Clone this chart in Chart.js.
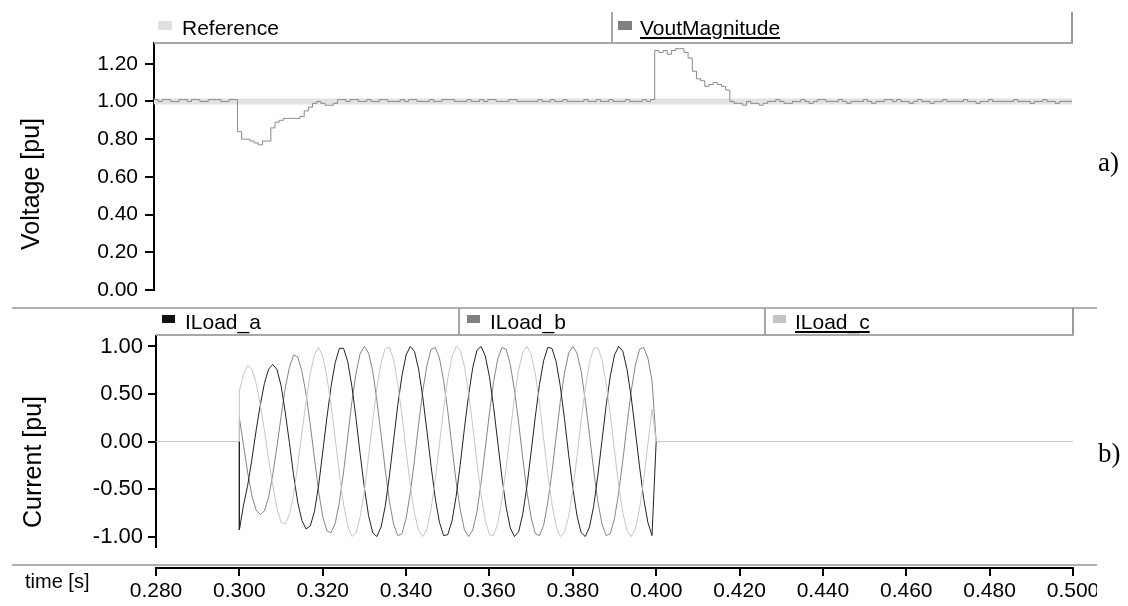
<!DOCTYPE html>
<html>
<head>
<meta charset="utf-8">
<script src="https://cdn.jsdelivr.net/npm/chart.js@4.4.1/dist/chart.umd.min.js"></script>
<style>
  html, body { margin: 0; padding: 0; background: #fff; }
  body { width: 1128px; height: 606px; position: relative; overflow: hidden;
         font-family: 'Liberation Sans', Arial, sans-serif; color: #000; }
  .abs { position: absolute; }
  .hl { position: absolute; height: 2px; background: #b0b0b0; }
  .vl { position: absolute; width: 2px; background: #a8a8a8; }
  .sw { position: absolute; }
  .lg { position: absolute; font-size: 21px; line-height: 21px; white-space: nowrap; }
  .u { text-decoration: underline; text-underline-offset: 2px; }
  .ytitle { position: absolute; font-size: 25px; line-height: 25px; white-space: nowrap;
            transform: translate(-50%, -50%) rotate(-90deg); }
  .tag { position: absolute; font-family: 'Liberation Serif', 'Times New Roman', serif;
         font-size: 27px; line-height: 27px; }
</style>
</head>
<body>
<!-- top panel -->
<canvas id="cTop" class="abs" width="1128" height="310" style="left:0;top:0"></canvas>
<!-- bottom panel + time axis, clipped at the right like the reference -->
<div class="abs" style="left:0;top:0;width:1097px;height:606px;overflow:hidden">
  <canvas id="cBot" class="abs" width="1128" height="267" style="left:0;top:300px"></canvas>
  <canvas id="cAxis" class="abs" width="1128" height="46" style="left:0;top:560px"></canvas>
</div>

<!-- top legend -->
<div class="vl" style="left:611px;top:12px;height:31px"></div>
<div class="vl" style="left:1071px;top:12px;height:31px;background:#999"></div>
<div class="hl" style="left:154px;top:42px;width:919px;background:#a8a8a8"></div>
<div class="sw" style="left:158px;top:21px;width:14px;height:9px;background:#e0e0e0"></div>
<div class="lg" style="left:182px;top:17px">Reference</div>
<div class="sw" style="left:618px;top:21px;width:14px;height:9px;background:#808080"></div>
<div class="lg u" style="left:640px;top:17px">VoutMagnitude</div>

<!-- separators -->
<div class="hl" style="left:12px;top:307px;width:1085px"></div>
<div class="hl" style="left:12px;top:564px;width:1085px"></div>

<!-- bottom legend -->
<div class="vl" style="left:458px;top:308px;height:27px"></div>
<div class="vl" style="left:764px;top:308px;height:27px"></div>
<div class="vl" style="left:1072px;top:308px;height:27px;background:#999"></div>
<div class="hl" style="left:156px;top:334px;width:918px;background:#a8a8a8"></div>
<div class="sw" style="left:162px;top:315px;width:13px;height:8px;background:#111"></div>
<div class="lg" style="left:185px;top:311px">ILoad_a</div>
<div class="sw" style="left:467px;top:315px;width:13px;height:8px;background:#808080"></div>
<div class="lg" style="left:490px;top:311px">ILoad_b</div>
<div class="sw" style="left:773px;top:315px;width:13px;height:8px;background:#c4c4c4"></div>
<div class="lg u" style="left:795px;top:311px">ILoad_c</div>

<!-- axis titles and panel tags -->
<div class="ytitle" style="left:30px;top:184px">Voltage [pu]</div>
<div class="ytitle" style="left:32px;top:462px">Current [pu]</div>
<div class="abs" style="left:25px;top:571px;font-size:20px;line-height:20px;white-space:nowrap">time [s]</div>
<div class="tag" style="left:1098px;top:149px">a)</div>
<div class="tag" style="left:1098px;top:440px">b)</div>

<script>
// ---------------- data ----------------
const timeMin = 0.280, timeMax = 0.500;
const xTickStep = 0.02;

// VoutMagnitude, sampled every 1 ms from 0.280 s to 0.500 s (221 samples)
const voutStart = 0.280, voutStep = 0.001;
const voutMagnitude = [
  1.01,1.00,1.01,1.01,1.00,1.00,1.01,1.01,1.00,1.01,1.01,1.00,1.00,1.01,1.01,1.01,1.00,1.00,1.01,1.01,
  0.84,0.80,0.80,0.79,0.78,0.77,0.79,0.79,0.86,0.89,0.90,0.91,0.91,0.91,0.91,0.92,0.95,0.97,0.99,1.00,0.99,0.98,0.98,0.99,1.01,1.01,
  1.00,1.01,1.01,1.00,1.00,1.01,1.00,1.00,1.01,1.01,
  1.00,1.00,1.00,1.01,1.00,1.01,1.01,1.00,1.00,1.00,
  1.01,1.00,1.00,1.01,1.01,1.01,1.00,1.00,1.00,1.01,
  1.00,1.00,1.01,1.00,1.01,1.01,1.00,1.00,1.00,1.01,
  1.01,1.00,1.00,1.00,1.00,1.00,1.01,1.00,1.00,1.01,
  1.00,1.00,1.01,1.00,1.00,1.00,1.00,1.01,1.00,1.00,
  1.01,1.00,1.00,1.01,1.00,1.00,1.00,1.01,1.00,1.00,
  1.00,1.01,1.00,1.01,
  1.27,1.26,1.27,1.25,1.27,1.28,1.28,1.26,1.23,1.16,1.12,1.11,1.08,1.09,1.10,1.09,1.08,1.06,1.00,0.99,0.99,0.98,1.00,
  0.99,0.99,0.98,0.99,1.00,1.00,1.01,1.00,0.99,0.99,
  1.00,1.00,1.01,1.00,0.99,1.00,1.01,1.01,1.00,1.00,
  1.00,1.01,1.00,0.99,1.00,1.00,1.00,1.01,1.00,0.99,
  1.00,1.00,1.01,1.01,1.00,1.01,1.00,1.00,0.99,1.00,
  1.01,1.00,1.00,0.99,1.00,1.00,1.01,1.00,1.00,1.00,
  1.00,1.01,1.00,1.00,0.99,1.00,1.00,1.01,1.00,1.00,
  1.00,1.00,1.00,1.01,1.00,1.00,1.00,0.99,1.00,1.00,
  1.01,1.00,1.00,0.99,1.00,1.00,1.00,1.00
];

// Reference level
const referenceTimes = [0.280, 0.500];
const referenceValues = [1.00, 1.00];

// Load currents: zero outside the load interval, sampled every 1 ms inside it
const loadOn = 0.300, loadOff = 0.400, currentStep = 0.001;
const idleBefore = [0.280, 0.300];   // zero-current points before switching on
const idleAfter = [0.400, 0.500];    // zero-current points after switching off
const iLoadA = [
  -0.93,-0.67,-0.46,-0.19,0.11,0.38,0.61,0.76,0.81,0.76,0.59,0.31,-0.01,-0.35,-0.64,-0.83,-0.92,-0.89,-0.74,-0.47,-0.11,0.25,0.58,0.83,0.98,
  0.98,0.84,0.58,0.24,-0.14,-0.49,-0.78,-0.96,-1.00,-0.90,-0.68,-0.36,0.01,0.38,0.69,0.91,1.00,0.95,0.76,0.47,0.11,-0.26,-0.60,-0.85,-0.99,
  -0.98,-0.84,-0.58,-0.24,0.14,0.49,0.78,0.96,1.00,0.90,0.68,0.36,-0.01,-0.38,-0.69,-0.91,-1.00,-0.95,-0.76,-0.47,-0.11,0.26,0.60,0.85,0.99,
  0.98,0.84,0.58,0.24,-0.14,-0.49,-0.78,-0.96,-1.00,-0.90,-0.68,-0.36,0.01,0.38,0.69,0.91,1.00,0.95,0.76,0.47,0.11,-0.26,-0.60,-0.85,-0.99
];
const iLoadB = [
  0.25,-0.04,-0.33,-0.57,-0.72,-0.77,-0.73,-0.59,-0.35,-0.06,0.26,0.56,0.78,0.91,0.89,0.74,0.50,0.18,-0.17,-0.52,-0.79,-0.94,-0.96,-0.86,-0.64,
  -0.32,0.05,0.42,0.72,0.93,1.00,0.93,0.74,0.43,0.07,-0.30,-0.63,-0.87,-0.99,-0.97,-0.81,-0.54,-0.20,0.18,0.53,0.80,0.97,0.99,0.88,0.64,
  0.32,-0.05,-0.42,-0.72,-0.93,-1.00,-0.93,-0.74,-0.43,-0.07,0.30,0.63,0.87,0.99,0.97,0.81,0.54,0.20,-0.18,-0.53,-0.80,-0.97,-0.99,-0.88,-0.64,
  -0.32,0.05,0.42,0.72,0.93,1.00,0.93,0.74,0.43,0.07,-0.30,-0.63,-0.87,-0.99,-0.97,-0.81,-0.54,-0.20,0.18,0.53,0.80,0.97,0.99,0.88,0.64
];
const iLoadC = [
  0.53,0.71,0.80,0.76,0.62,0.39,0.12,-0.18,-0.46,-0.70,-0.85,-0.87,-0.77,-0.56,-0.25,0.09,0.42,0.71,0.91,0.99,0.90,0.68,0.38,0.03,-0.34,
  -0.66,-0.89,-1.00,-0.96,-0.79,-0.51,-0.16,0.22,0.56,0.83,0.98,0.99,0.86,0.61,0.28,-0.10,-0.46,-0.75,-0.94,-1.00,-0.92,-0.71,-0.40,-0.03,0.34,
  0.66,0.89,1.00,0.96,0.79,0.51,0.16,-0.22,-0.56,-0.83,-0.98,-0.99,-0.86,-0.61,-0.28,0.10,0.46,0.75,0.94,1.00,0.92,0.71,0.40,0.03,-0.34,
  -0.66,-0.89,-1.00,-0.96,-0.79,-0.51,-0.16,0.22,0.56,0.83,0.98,0.99,0.86,0.61,0.28,-0.10,-0.46,-0.75,-0.94,-1.00,-0.92,-0.71,-0.40,-0.03,0.34
];

// ---------------- helpers ----------------
const FONT = "'Liberation Sans', Arial, sans-serif";
const sampled = (start, step, values) =>
  values.map((v, i) => ({ x: +(start + i * step).toFixed(4), y: v }));
const currentSeries = (values) => [
  ...idleBefore.map((t) => ({ x: t, y: 0 })),
  ...sampled(loadOn, currentStep, values),
  ...idleAfter.map((t) => ({ x: t, y: 0 }))
];
const commonOpts = {
  responsive: false, animation: false, devicePixelRatio: 1,
  events: [],
  plugins: { legend: { display: false }, tooltip: { enabled: false } }
};

// ---------------- top panel ----------------
new Chart(document.getElementById('cTop'), {
  type: 'line',
  data: {
    datasets: [
      { label: 'VoutMagnitude', data: sampled(voutStart, voutStep, voutMagnitude),
        borderColor: '#8a8a8a', borderWidth: 1, stepped: true, pointRadius: 0, order: 0 },
      { label: 'Reference', data: referenceTimes.map((t, i) => ({ x: t, y: referenceValues[i] })),
        borderColor: '#e2e2e2', borderWidth: 6, pointRadius: 0, order: 1 }
    ]
  },
  options: {
    ...commonOpts,
    layout: { padding: { top: 43, right: 56, bottom: 20, left: 0 } },
    scales: {
      x: { type: 'linear', min: timeMin, max: timeMax, display: false },
      y: {
        min: 0, max: 1.31,
        afterFit: (s) => { s.width = 154; },
        ticks: { stepSize: 0.2, includeBounds: false, callback: (v) => v.toFixed(2),
                 font: { family: FONT, size: 21 }, color: '#000', padding: 7 },
        grid: { drawOnChartArea: false, drawTicks: true, tickLength: 9, color: '#000', lineWidth: 2 },
        border: { display: true, color: '#000', width: 2 }
      }
    }
  }
});

// ---------------- bottom panel ----------------
new Chart(document.getElementById('cBot'), {
  type: 'line',
  data: {
    datasets: [
      { label: 'ILoad_c', data: currentSeries(iLoadC), borderColor: '#c6c6c6',
        borderWidth: 1, pointRadius: 0, tension: 0, order: 0 },
      { label: 'ILoad_a', data: currentSeries(iLoadA), borderColor: '#222222',
        borderWidth: 1, pointRadius: 0, tension: 0, order: 1 },
      { label: 'ILoad_b', data: currentSeries(iLoadB), borderColor: '#858585',
        borderWidth: 1, pointRadius: 0, tension: 0, order: 2 }
    ]
  },
  options: {
    ...commonOpts,
    layout: { padding: { top: 36, right: 55, bottom: 20, left: 0 } },
    scales: {
      x: { type: 'linear', min: timeMin, max: timeMax, display: false },
      y: {
        min: -1.11, max: 1.11,
        afterFit: (s) => { s.width = 156; },
        ticks: { stepSize: 0.5, includeBounds: false, callback: (v) => v.toFixed(2),
                 font: { family: FONT, size: 22 }, color: '#000', padding: 5 },
        grid: { drawOnChartArea: false, drawTicks: true, tickLength: 8, color: '#000', lineWidth: 2 },
        border: { display: true, color: '#000', width: 2 }
      }
    }
  }
});

// ---------------- time axis ----------------
new Chart(document.getElementById('cAxis'), {
  type: 'line',
  data: { datasets: [] },
  options: {
    ...commonOpts,
    layout: { padding: { top: 7, right: 55, bottom: 0, left: 156 } },
    scales: {
      x: {
        type: 'linear', min: timeMin, max: timeMax,
        afterFit: (s) => { s.height = 38; },
        ticks: { stepSize: xTickStep, autoSkip: false, maxRotation: 0,
                 callback: (v) => v.toFixed(3),
                 font: { family: FONT, size: 21 }, color: '#000', padding: 3 },
        grid: { drawOnChartArea: false, drawTicks: true, tickLength: 8, color: '#000', lineWidth: 2 },
        border: { display: true, color: '#000', width: 2 }
      },
      y: { display: false, min: 0, max: 1 }
    }
  }
});
</script>
</body>
</html>
